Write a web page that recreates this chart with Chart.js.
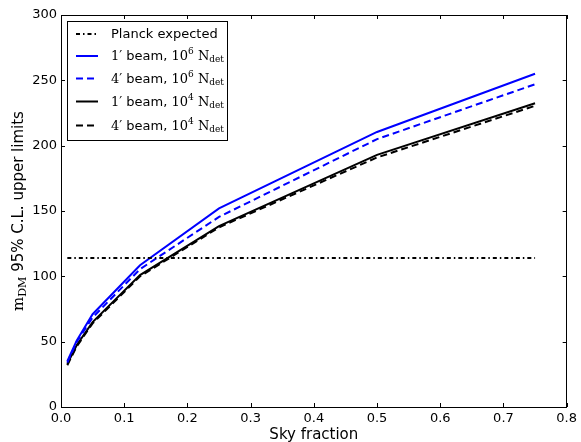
<!DOCTYPE html>
<html><head><meta charset="utf-8">
<script src="https://cdn.jsdelivr.net/npm/chart.js@4/dist/chart.umd.min.js"></script>
<style>html,body{margin:0;padding:0;background:#fff}#wrap{width:581px;height:442px}</style>
</head><body><div id="wrap"><canvas id="c" width="581" height="442"></canvas></div>
<script>
const skyFraction = [0.01, 0.025, 0.05, 0.125, 0.25, 0.5, 0.75];
const beam1_1e6 = [35, 51, 71, 108.5, 152, 210.5, 255];
const beam4_1e6 = [34, 50, 68.5, 105.5, 145.5, 205, 247];
const beam1_1e4 = [33, 47.5, 65, 101, 138.5, 193, 232.5];
const beam4_1e4 = [32, 46.5, 64, 100, 137.5, 191, 230.5];
const planckX = [0.01, 0.75];
const planckY = [114, 114];
const xTicks = [0, 0.1, 0.2, 0.3, 0.4, 0.5, 0.6, 0.7, 0.8];
const yTicks = [0, 50, 100, 150, 200, 250, 300];
const seriesNames = ["Planck expected", "1′ beam, 10^6 N_det", "4′ beam, 10^6 N_det", "1′ beam, 10^4 N_det", "4′ beam, 10^4 N_det"];

const SANS = '"DejaVu Sans", sans-serif';
const SERIF = '"DejaVu Serif", "Liberation Serif", serif';

function pts(xs, ys){ return xs.map((x,i)=>({x:x, y:ys[i]})); }

function richSegments(name){
  // "1′ beam, 10^6 N_det" -> segments
  if (name.indexOf('^') < 0) return [['sans', name]];
  const m = name.match(/^(\S+) (beam, )(\d+)\^(\d+) (\w)_(\w+)$/);
  return [['serif', m[1]], ['sans', ' ' + m[2]], ['serif', m[3]], ['sup', m[4]], ['serif', ' ' + m[5]], ['sub', m[6]]];
}

function drawRich(ctx, segs, x, y, size){
  let cx = x;
  for (const [kind, txt] of segs){
    let f, dy = 0;
    if (kind === 'sans') f = size + 'px ' + SANS;
    else if (kind === 'serif') f = size + 'px ' + SERIF;
    else if (kind === 'sup') { f = Math.round(size*0.7) + 'px ' + SERIF; dy = -size*0.38; }
    else { f = Math.round(size*0.7) + 'px ' + SERIF; dy = size*0.22; }
    ctx.font = f;
    ctx.fillText(txt, cx, y + dy);
    cx += ctx.measureText(txt).width;
  }
  return cx - x;
}
function measureRich(ctx, segs, size){
  let w = 0;
  for (const [kind, txt] of segs){
    if (kind === 'sans') ctx.font = size + 'px ' + SANS;
    else if (kind === 'serif') ctx.font = size + 'px ' + SERIF;
    else ctx.font = Math.round(size*0.7) + 'px ' + SERIF;
    w += ctx.measureText(txt).width;
  }
  return w;
}

const decorPlugin = {
  id: 'decor',
  afterDraw(chart){
    const ctx = chart.ctx, a = chart.chartArea;
    const xs = chart.scales.x, ys = chart.scales.y;
    ctx.save();
    // frame
    ctx.strokeStyle = '#000'; ctx.lineWidth = 1;
    ctx.strokeRect(Math.round(a.left)+0.5, Math.round(a.top)+0.5, Math.round(a.right-a.left)-1, Math.round(a.bottom-a.top));
    // inward ticks
    const tl = 4;
    ctx.beginPath();
    for (const v of xTicks){
      const px = Math.round(xs.getPixelForValue(v)) + 0.5;
      ctx.moveTo(px, a.bottom); ctx.lineTo(px, a.bottom - tl);
      ctx.moveTo(px, a.top); ctx.lineTo(px, a.top + tl);
    }
    for (const v of yTicks){
      const py = Math.round(ys.getPixelForValue(v)) + 0.5;
      ctx.moveTo(a.left, py); ctx.lineTo(a.left + tl, py);
      ctx.moveTo(a.right, py); ctx.lineTo(a.right - tl, py);
    }
    ctx.stroke();

    // axis titles
    ctx.fillStyle = '#000';
    ctx.textBaseline = 'alphabetic';
    ctx.textAlign = 'left';
    ctx.font = '15px ' + SANS;
    const xt = 'Sky fraction';
    const xw = ctx.measureText(xt).width;
    ctx.fillText(xt, (a.left + a.right)/2 - xw/2, 439);

    const ySegs = [['serif','m'],['sub','DM'],['sans',' 95% C.L. upper limits']];
    const yw = measureRich(ctx, ySegs, 15);
    ctx.save();
    ctx.translate(23, (a.top + a.bottom)/2);
    ctx.rotate(-Math.PI/2);
    drawRich(ctx, ySegs, -yw/2, 0, 15);
    ctx.restore();

    // legend
    const lx = 67.5, ly = 21.5, lw = 160, lh = 119;
    ctx.fillStyle = '#fff';
    ctx.fillRect(lx, ly, lw, lh);
    ctx.strokeStyle = '#000'; ctx.lineWidth = 1;
    ctx.strokeRect(lx, ly, lw, lh);
    const rowY = [34, 56, 78.5, 101.5, 125.5];
    chart.data.datasets.forEach((ds, i) => {
      const y = rowY[i];
      ctx.save();
      ctx.strokeStyle = ds.borderColor; ctx.lineWidth = ds.borderWidth;
      ctx.setLineDash(ds.borderDash || []);
      ctx.beginPath(); ctx.moveTo(76, y); ctx.lineTo(98, y); ctx.stroke();
      ctx.restore();
      ctx.fillStyle = '#000';
      ctx.textBaseline = 'middle';
      drawRich(ctx, richSegments(ds.label), 111, y + 1, 13);
    });
    ctx.restore();
  }
};

new Chart(document.getElementById('c'), {
  type: 'line',
  data: {
    datasets: [
      { label: seriesNames[0], data: pts(planckX, planckY), borderColor: '#000', borderWidth: 2, borderDash: [4,3,1.5,3] },
      { label: seriesNames[1], data: pts(skyFraction, beam1_1e6), borderColor: '#0000ff', borderWidth: 2 },
      { label: seriesNames[2], data: pts(skyFraction, beam4_1e6), borderColor: '#0000ff', borderWidth: 2, borderDash: [7,4] },
      { label: seriesNames[3], data: pts(skyFraction, beam1_1e4), borderColor: '#000', borderWidth: 2 },
      { label: seriesNames[4], data: pts(skyFraction, beam4_1e4), borderColor: '#000', borderWidth: 2, borderDash: [7,4] }
    ]
  },
  options: {
    responsive: false, animation: false,
    layout: { padding: { left: 0, right: 14, top: 15, bottom: 0 } },
    elements: { point: { radius: 0 }, line: { tension: 0 } },
    plugins: { legend: { display: false }, tooltip: { enabled: false } },
    scales: {
      x: {
        type: 'linear', min: 0, max: 0.8,
        afterFit(s){ s.height = 35; },
        afterBuildTicks(s){ s.ticks = xTicks.map(v=>({value:v})); },
        grid: { display: false, drawTicks: false },
        border: { display: false },
        ticks: { color: '#000', padding: 4, font: { family: SANS, size: 13 }, maxRotation: 0, autoSkip: false,
                 callback: v => Number(v).toFixed(1) }
      },
      y: {
        type: 'linear', min: 0, max: 300,
        afterFit(s){ s.width = 61; },
        afterBuildTicks(s){ s.ticks = yTicks.map(v=>({value:v})); },
        grid: { display: false, drawTicks: false },
        border: { display: false },
        ticks: { color: '#000', padding: 4, font: { family: SANS, size: 13 }, autoSkip: false }
      }
    }
  },
  plugins: [decorPlugin]
});
</script></body></html>
